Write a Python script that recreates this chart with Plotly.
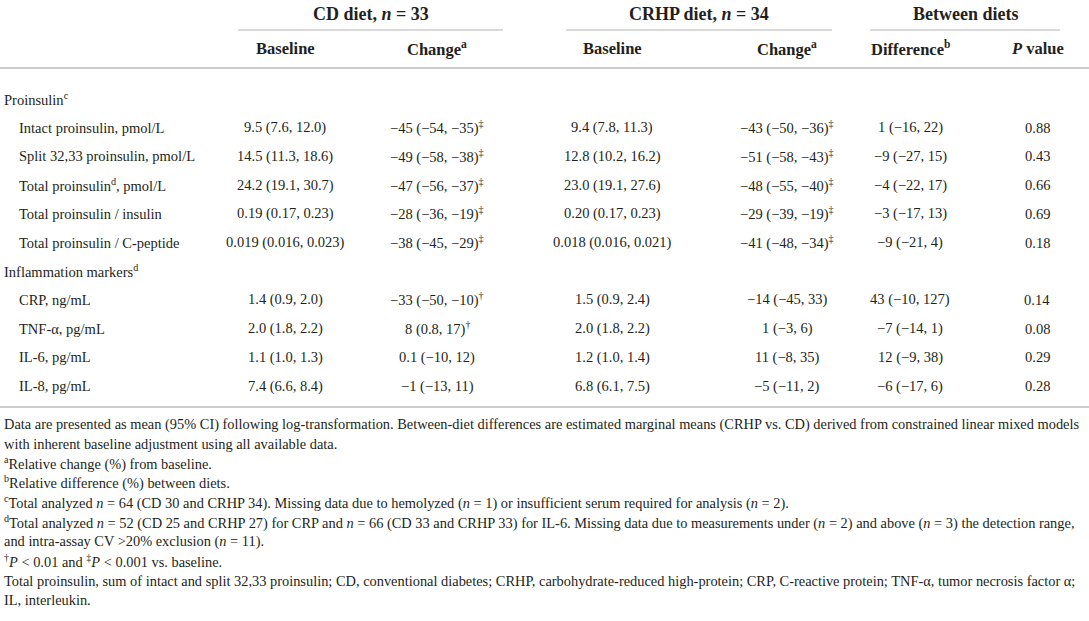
import plotly.graph_objects as go

# ---- data ----
groups = ["CD diet, <i>n</i> = 33", "CRHP diet, <i>n</i> = 34", "Between diets"]
columns = ["Baseline", "Change<sup>a</sup>", "Baseline", "Change<sup>a</sup>",
           "Difference<sup>b</sup>", "<i>P</i> value"]

sections = ["Proinsulin<sup>c</sup>", "Inflammation markers<sup>d</sup>"]
proinsulin_rows = ["Intact proinsulin, pmol/L", "Split 32,33 proinsulin, pmol/L",
                   "Total proinsulin<sup>d</sup>, pmol/L", "Total proinsulin / insulin",
                   "Total proinsulin / C-peptide"]
inflammation_rows = ["CRP, ng/mL", "TNF-α, pg/mL", "IL-6, pg/mL", "IL-8, pg/mL"]

cd_baseline = ["9.5 (7.6, 12.0)", "14.5 (11.3, 18.6)", "24.2 (19.1, 30.7)", "0.19 (0.17, 0.23)",
               "0.019 (0.016, 0.023)", "1.4 (0.9, 2.0)", "2.0 (1.8, 2.2)", "1.1 (1.0, 1.3)",
               "7.4 (6.6, 8.4)"]
cd_change = ["−45 (−54, −35)<sup>‡</sup>", "−49 (−58, −38)<sup>‡</sup>", "−47 (−56, −37)<sup>‡</sup>",
             "−28 (−36, −19)<sup>‡</sup>", "−38 (−45, −29)<sup>‡</sup>", "−33 (−50, −10)<sup>†</sup>",
             "8 (0.8, 17)<sup>†</sup>", "0.1 (−10, 12)", "−1 (−13, 11)"]
crhp_baseline = ["9.4 (7.8, 11.3)", "12.8 (10.2, 16.2)", "23.0 (19.1, 27.6)", "0.20 (0.17, 0.23)",
                 "0.018 (0.016, 0.021)", "1.5 (0.9, 2.4)", "2.0 (1.8, 2.2)", "1.2 (1.0, 1.4)",
                 "6.8 (6.1, 7.5)"]
crhp_change = ["−43 (−50, −36)<sup>‡</sup>", "−51 (−58, −43)<sup>‡</sup>", "−48 (−55, −40)<sup>‡</sup>",
               "−29 (−39, −19)<sup>‡</sup>", "−41 (−48, −34)<sup>‡</sup>", "−14 (−45, 33)",
               "1 (−3, 6)", "11 (−8, 35)", "−5 (−11, 2)"]
difference = ["1 (−16, 22)", "−9 (−27, 15)", "−4 (−22, 17)", "−3 (−17, 13)", "−9 (−21, 4)",
              "43 (−10, 127)", "−7 (−14, 1)", "12 (−9, 38)", "−6 (−17, 6)"]
p_value = ["0.88", "0.43", "0.66", "0.69", "0.18", "0.14", "0.08", "0.29", "0.28"]

footnotes = [
    "Data are presented as mean (95% CI) following log-transformation. Between-diet differences are estimated marginal means (CRHP vs. CD) derived from constrained linear mixed models",
    "with inherent baseline adjustment using all available data.",
    "<sup>a</sup>Relative change (%) from baseline.",
    "<sup>b</sup>Relative difference (%) between diets.",
    "<sup>c</sup>Total analyzed <i>n</i> = 64 (CD 30 and CRHP 34). Missing data due to hemolyzed (<i>n</i> = 1) or insufficient serum required for analysis (<i>n</i> = 2).",
    "<sup>d</sup>Total analyzed <i>n</i> = 52 (CD 25 and CRHP 27) for CRP and <i>n</i> = 66 (CD 33 and CRHP 33) for IL-6. Missing data due to measurements under (<i>n</i> = 2) and above (<i>n</i> = 3) the detection range,",
    "and intra-assay CV >20% exclusion (<i>n</i> = 11).",
    "<sup>†</sup><i>P</i> < 0.01 and <sup>‡</sup><i>P</i> < 0.001 vs. baseline.",
    "Total proinsulin, sum of intact and split 32,33 proinsulin; CD, conventional diabetes; CRHP, carbohydrate-reduced high-protein; CRP, C-reactive protein; TNF-α, tumor necrosis factor α;",
    "IL, interleukin.",
]

# ---- layout (pixel coords) ----
W, H = 1089, 621
FONT = "Liberation Serif"
INK = "#231f20"
RULE = "#cccccc"

col_x = [285, 437, 612, 787, 910, 1037]
group_spans = [(238, 503), (566, 832), (870, 1060)]
row0, row_step = 99, 28.7
foot0, foot_step = 424, 19.6

fig = go.Figure()
ann = []


def txt(x, y, s, size=14, anchor="center", bold=False):
    if bold:
        s = "<b>" + s + "</b>"
    ann.append(dict(x=x, y=y, text=s, xref="x", yref="y", showarrow=False,
                    xanchor=anchor, yanchor="middle",
                    font=dict(family=FONT, size=size, color=INK)))


# headers
for (x0, x1), g in zip(group_spans, groups):
    txt((x0 + x1) / 2, 14, g, size=18, bold=True)
for x, c in zip(col_x, columns):
    txt(x, 48, c, size=16.5, bold=True)

# body rows
labels = [(sections[0], True)] + [(r, False) for r in proinsulin_rows] + \
         [(sections[1], True)] + [(r, False) for r in inflammation_rows]
values = list(zip(cd_baseline, cd_change, crhp_baseline, crhp_change, difference, p_value))
k = 0
for i, (lab, is_section) in enumerate(labels):
    y = row0 + i * row_step
    txt(2 if is_section else 17, y, lab, size=14.5, anchor="left")
    if not is_section:
        for x, v in zip(col_x, values[k]):
            txt(x, y, v, size=14.5)
        k += 1

for i, f in enumerate(footnotes):
    txt(2, foot0 + i * foot_step, f, size=14.4, anchor="left")

shapes = []
for x0, x1 in group_spans:
    shapes.append(dict(type="line", xref="x", yref="y", x0=x0, x1=x1, y0=30, y1=30,
                       line=dict(color=RULE, width=1.5)))
for yl in (68, 407):
    shapes.append(dict(type="line", xref="x", yref="y", x0=0, x1=W, y0=yl, y1=yl,
                       line=dict(color=RULE, width=2)))

fig.update_layout(
    width=W, height=H, margin=dict(l=0, r=0, t=0, b=0),
    paper_bgcolor="white", plot_bgcolor="white",
    xaxis=dict(range=[0, W], visible=False, fixedrange=True),
    yaxis=dict(range=[H, 0], visible=False, fixedrange=True),
    annotations=ann, shapes=shapes, showlegend=False,
)

fig.write_html("out.html", config={"displayModeBar": False},
               post_script="document.body.style.margin='0';")
